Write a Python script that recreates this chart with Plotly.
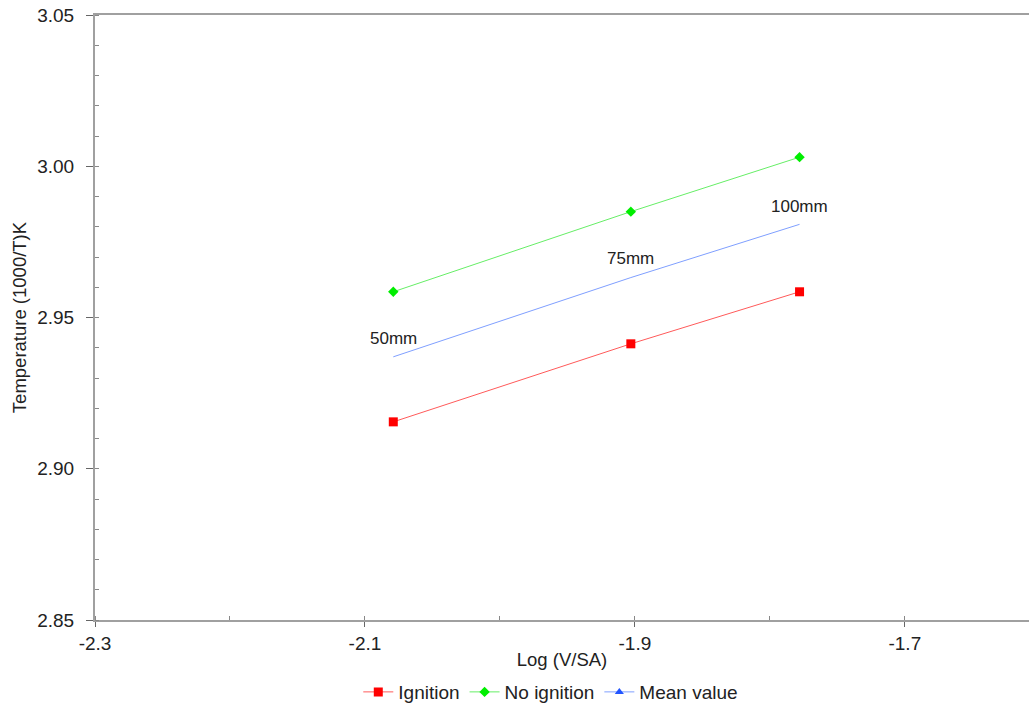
import plotly.graph_objects as go

log_vsa = [-2.079, -1.903, -1.778]
ignition = [2.9155, 2.9413, 2.9585]
no_ignition = [2.9585, 2.985, 3.003]
mean_value = [2.937, 2.9632, 2.9808]
size_labels = ["50mm", "75mm", "100mm"]
label_y = [2.943, 2.9695, 2.9868]

FONT = "Liberation Sans, Arial, sans-serif"

fig = go.Figure()
fig.add_trace(go.Scatter(x=log_vsa, y=ignition, mode="lines+markers", name="Ignition",
                         line=dict(color="#ff5a5a", width=1),
                         marker=dict(symbol="square", size=9, color="#ff0000")))
fig.add_trace(go.Scatter(x=log_vsa, y=no_ignition, mode="lines+markers", name="No ignition",
                         line=dict(color="#66ee66", width=1),
                         marker=dict(symbol="diamond", size=8, color="#00ee00")))
fig.add_trace(go.Scatter(x=log_vsa, y=mean_value, mode="lines", name="Mean value",
                         line=dict(color="#7f9fff", width=1), showlegend=False,
                         legendgroup="mean"))
fig.add_trace(go.Scatter(x=[None], y=[None], mode="lines+markers", name="Mean value",
                         line=dict(color="#7f9fff", width=1),
                         marker=dict(symbol="triangle-up", size=8, color="#2255ff"),
                         legendgroup="mean"))

for xv, yv, t in zip(log_vsa, label_y, size_labels):
    fig.add_annotation(x=xv, y=yv, text=t, showarrow=False,
                       font=dict(family=FONT, size=17, color="#222"))

fig.update_layout(
    width=1029, height=705,
    margin=dict(l=95, r=0, t=15, b=85),
    plot_bgcolor="white", paper_bgcolor="white",
    font=dict(family=FONT, color="#222"),
    showlegend=True,
    legend=dict(orientation="h", xref="paper", x=0.488, xanchor="center",
                yref="container", y=0.0184, yanchor="middle",
                font=dict(family=FONT, size=19, color="#222"),
                itemwidth=30, tracegroupgap=0),
    xaxis=dict(range=[-2.3, -1.608], tickvals=[-2.3, -2.1, -1.9, -1.7],
               ticktext=["-2.3", "-2.1", "-1.9", "-1.7"], automargin=False,
               showgrid=False, zeroline=False, showline=True, linecolor="#a0a0a0",
               linewidth=2, mirror=True, ticks="outside", ticklen=5, tickcolor="#666",
               tickfont=dict(family=FONT, size=19, color="#222"),
               minor=dict(dtick=0.1, tick0=-2.3, ticks="inside", ticklen=4, tickcolor="#888"),
               title=dict(text="Log (V/SA)", font=dict(family=FONT, size=18.5, color="#222"),
                          standoff=0)),
    yaxis=dict(range=[2.85, 3.05], tickvals=[2.85, 2.90, 2.95, 3.00, 3.05],
               ticktext=["2.85", "2.90", "2.95", "3.00", "3.05"], automargin=False,
               showgrid=False, zeroline=False, showline=True, linecolor="#a0a0a0",
               linewidth=2, ticks="outside", ticklen=7, tickcolor="#666",
               ticklabelstandoff=8,
               tickfont=dict(family=FONT, size=19, color="#222"),
               minor=dict(dtick=0.01, tick0=2.85, ticks="inside", ticklen=4, tickcolor="#888"),
               title=dict(text="Temperature (1000/T)K", font=dict(family=FONT, size=18.5, color="#222"),
                          standoff=6)),
)

fig.write_html("out.html")
